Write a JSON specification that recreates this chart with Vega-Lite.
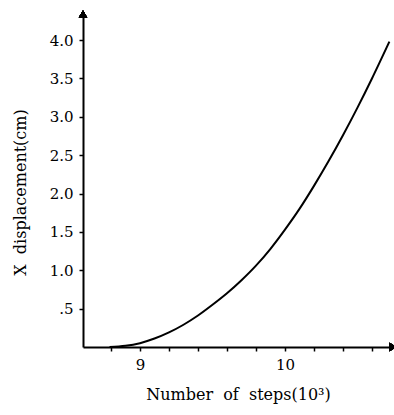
{
  "$schema": "https://vega.github.io/schema/vega-lite/v6.json",
  "width": 310,
  "height": 333,
  "autosize": {"type": "none"},
  "padding": {"left": 83, "top": 14, "right": 1, "bottom": 68},
  "background": "white",
  "config": {
    "view": {"stroke": null},
    "font": "DejaVu Serif",
    "axis": {
      "labelFont": "DejaVu Serif",
      "titleFont": "DejaVu Serif",
      "labelFontSize": 15,
      "titleFontSize": 16,
      "titleFontWeight": "normal",
      "labelColor": "black",
      "titleColor": "black",
      "domainColor": "black",
      "domainWidth": 2,
      "tickColor": "black",
      "tickWidth": 1.5,
      "tickSize": 4,
      "grid": false
    }
  },
  "data": {
    "values": [
      {"steps": 8.79, "disp": 0.0},
      {"steps": 8.9, "disp": 0.015},
      {"steps": 9.0, "disp": 0.05},
      {"steps": 9.1, "disp": 0.11},
      {"steps": 9.2, "disp": 0.19},
      {"steps": 9.3, "disp": 0.29},
      {"steps": 9.4, "disp": 0.41},
      {"steps": 9.5, "disp": 0.55},
      {"steps": 9.6, "disp": 0.7},
      {"steps": 9.7, "disp": 0.87},
      {"steps": 9.8, "disp": 1.06},
      {"steps": 9.9, "disp": 1.28},
      {"steps": 10.0, "disp": 1.53},
      {"steps": 10.1, "disp": 1.8},
      {"steps": 10.2, "disp": 2.1},
      {"steps": 10.3, "disp": 2.42},
      {"steps": 10.4, "disp": 2.76},
      {"steps": 10.5, "disp": 3.12},
      {"steps": 10.6, "disp": 3.5},
      {"steps": 10.72, "disp": 3.98}
    ]
  },
  "layer": [
    {
      "mark": {"type": "line", "color": "black", "strokeWidth": 2, "interpolate": "monotone", "clip": false},
      "encoding": {
        "x": {
          "field": "steps", "type": "quantitative",
          "scale": {"domain": [8.607, 10.745], "nice": false, "zero": false},
          "axis": {
            "values": [8.8, 9, 9.2, 9.4, 9.6, 9.8, 10, 10.2, 10.4, 10.6],
            "tickCount": 30,
            "labelExpr": "datum.value == 9 ? '9' : (datum.value == 10 ? '10' : '')",
            "labelOverlap": false,
            "labelBound": false,
            "labelFlush": false,
            "labelPadding": 6,
            "title": "Number\u00a0\u00a0of\u00a0\u00a0steps(10³)",
            "titlePadding": 14
          }
        },
        "y": {
          "field": "disp", "type": "quantitative",
          "scale": {"domain": [0, 4.34], "nice": false},
          "axis": {
            "values": [0.5, 1.0, 1.5, 2.0, 2.5, 3.0, 3.5, 4.0],
            "tickCount": 30,
            "labelExpr": "datum.value == 0.5 ? '.5' : format(datum.value, '.1f')",
            "labelOverlap": false,
            "labelPadding": 6,
            "title": "X\u00a0\u00a0displacement(cm)",
            "titleAngle": -90,
            "titleX": -63,
            "titleY": 178,
            "titleAlign": "center",
            "titleBaseline": "middle"
          }
        }
      }
    },
    {
      "mark": {"type": "point", "shape": "triangle-right", "filled": true, "color": "black", "size": 70, "opacity": 1, "clip": false},
      "encoding": {
        "x": {"datum": 10.745, "type": "quantitative"},
        "y": {"datum": 0, "type": "quantitative"}
      }
    },
    {
      "mark": {"type": "point", "shape": "triangle-up", "filled": true, "color": "black", "size": 70, "opacity": 1, "clip": false},
      "encoding": {
        "x": {"datum": 8.607, "type": "quantitative"},
        "y": {"datum": 4.34, "type": "quantitative"}
      }
    }
  ]
}
